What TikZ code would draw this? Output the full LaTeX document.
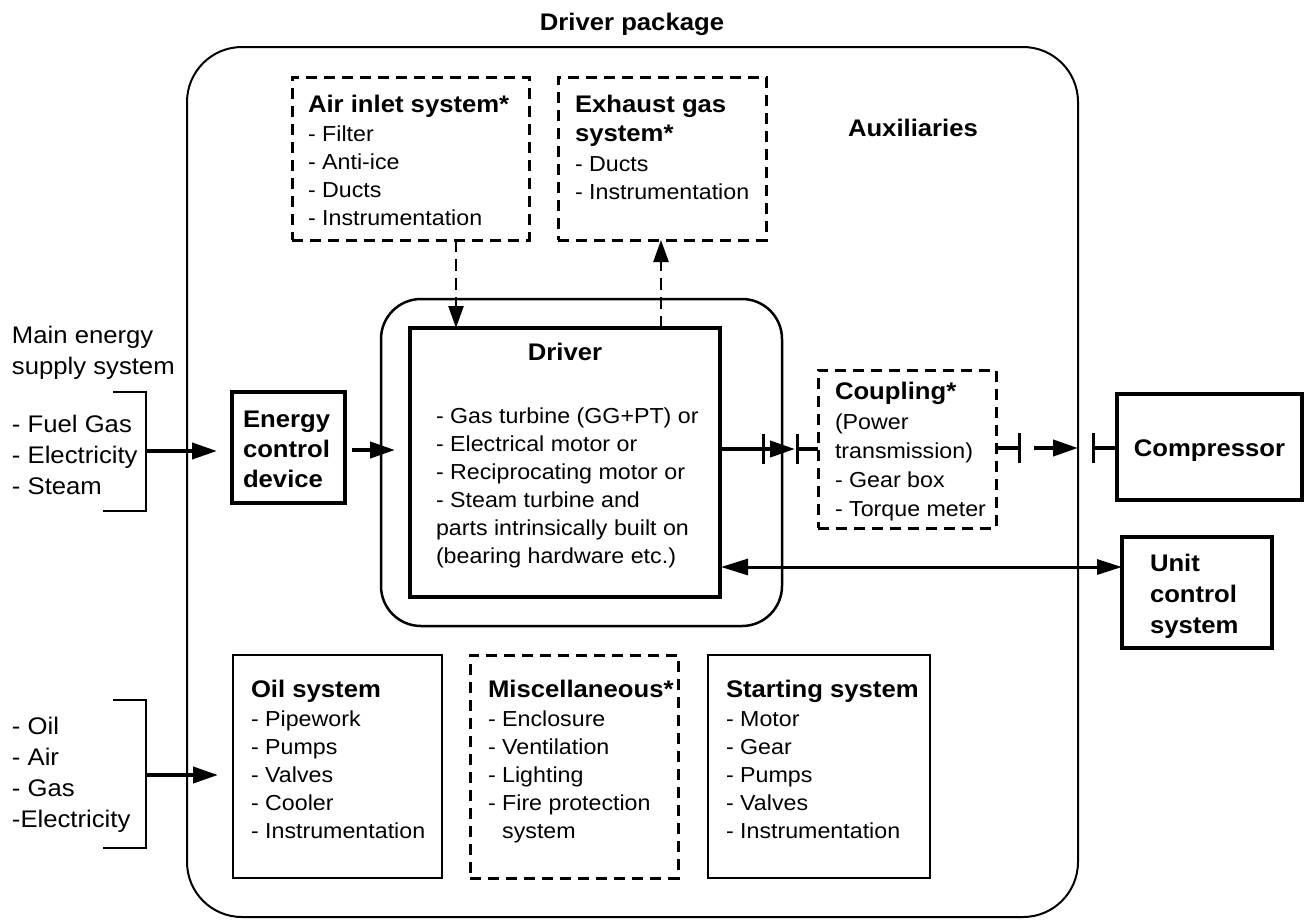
\documentclass[tikz,border=0pt]{standalone}
\usepackage{fontspec}
\setmainfont{Liberation Sans}[FakeStretch=1.07]
\usetikzlibrary{arrows.meta}
% text sizes
\newcommand\dgitem{\fontsize{21.7}{28}\selectfont}
\newcommand\dghead{\fontsize{24}{30}\selectfont\bfseries}
\newcommand\dgside{\fontsize{24}{31}\selectfont}
\begin{document}
% multi-line text nodes are placed by the baseline of their last line
\begin{tikzpicture}[x=1pt,y=-1pt,
  blk/.style={draw, line width=#1, inner sep=0pt, outer sep=0pt, anchor=north west},
  blk/.default=2pt,
  dblk/.style={blk=3pt, dash pattern=on 11pt off 7pt},
  txt/.style={inner sep=0pt, outer sep=0pt, anchor=base west, align=left, font=\dgitem},
  head/.style={txt, font=\dghead},
  side/.style={txt, font=\dgside},
  arr/.style={line width=4pt, -{Triangle[length=25pt,width=16pt]}},
  darr/.style={line width=2.5pt, dash pattern=on 12pt off 7pt, -{Triangle[length=22pt,width=15pt]}},
  twoway/.style={line width=3pt, {Triangle[length=27pt,width=16pt]}-{Triangle[length=25pt,width=15pt]}},
  bar/.style={line width=3pt},
  shaftline/.style={line width=3.5pt},
  bracket/.style={line width=2.2pt}
]
\useasboundingbox (0,0) rectangle (1311,919);

% driver package enclosure
\node[blk=2pt, rounded corners=55pt, minimum width=891pt, minimum height=870pt] (pkg) at (187,47) {};
\node[head, anchor=base] (ttl) at (632,30) {Driver package};
\node[head] (aux) at (848,136) {Auxiliaries};

% air inlet and exhaust
\node[dblk, minimum width=237pt, minimum height=163pt] (air) at (292,77) {};
\node[head] (airh) at (308,112) {Air inlet system*};
\node[txt] (airl) at (308,225) {- Filter\\- Anti-ice\\- Ducts\\- Instrumentation};

\node[dblk, minimum width=208pt, minimum height=163pt] (exh) at (558,77) {};
\node[head, font=\fontsize{24}{29}\selectfont\bfseries] (exhh) at (575,141) {Exhaust gas\\system*};
\node[txt] (exhl) at (575,199) {- Ducts\\- Instrumentation};

% driver
\node[blk=2.5pt, rounded corners=40pt, minimum width=401pt, minimum height=327pt] (drvpkg) at (381,299) {};
\node[blk=4pt, minimum width=310pt, minimum height=269pt] (drv) at (410,328) {};
\node[head, anchor=base] (drvh) at (565,360) {Driver};
\node[txt] (drvl) at (436,563) {- Gas turbine (GG+PT) or\\- Electrical motor or\\- Reciprocating motor or\\- Steam turbine and\\parts intrinsically built on\\(bearing hardware etc.)};

% energy supply
\node[side] (mes) at (12,374) {Main energy\\supply system};
\node[side] (mesl) at (12,494) {- Fuel Gas\\- Electricity\\- Steam};
\draw[bracket] (113,392) -- (146,392) -- (146,511) -- (103,511);
\coordinate (b1) at (146,451);

\node[blk=3.5pt, minimum width=113pt, minimum height=111pt] (ecd) at (232,392) {};
\node[head] (ecdt) at (243,487) {Energy\\control\\device};

% auxiliary supplies
\node[side] (auxl) at (12,827) {- Oil\\- Air\\- Gas\\-Electricity};
\draw[bracket] (113,700) -- (146,700) -- (146,848) -- (103,848);
\coordinate (b2) at (146,775);

% lower auxiliary systems
\node[blk=2pt, minimum width=209pt, minimum height=223pt] (oil) at (233,655) {};
\node[head] (oilh) at (251,697) {Oil system};
\node[txt] (oill) at (251,838) {- Pipework\\- Pumps\\- Valves\\- Cooler\\- Instrumentation};

\node[dblk, minimum width=208pt, minimum height=223pt] (misc) at (470,655) {};
\node[head] (misch) at (488,697) {Miscellaneous*};
\node[txt] (miscl) at (488,838) {- Enclosure\\- Ventilation\\- Lighting\\- Fire protection\\\phantom{-}\ system};

\node[blk=2pt, minimum width=222pt, minimum height=223pt] (start) at (708,655) {};
\node[head] (starth) at (726,697) {Starting system};
\node[txt] (startl) at (726,838) {- Motor\\- Gear\\- Pumps\\- Valves\\- Instrumentation};

% coupling, compressor, unit control
\node[dblk, minimum width=178pt, minimum height=158pt] (cpl) at (818,370) {};
\node[head] (cplh) at (835,399) {Coupling*};
\node[txt, font=\fontsize{21.7}{29}\selectfont] (cpll) at (835,516) {(Power\\transmission)\\- Gear box\\- Torque meter};

\node[blk=3.5pt, minimum width=185pt, minimum height=106pt] (cmp) at (1117,394) {};
\node[head, anchor=base] (cmpt) at (1209.5,456) {Compressor};

\node[blk=3.5pt, minimum width=150pt, minimum height=111pt] (ucs) at (1122,537) {};
\node[head, font=\fontsize{24}{31}\selectfont\bfseries] (ucst) at (1150,633) {Unit\\control\\system};

% supply arrows
\draw[arr, shorten >=15pt] (b1) -- (b1 -| ecd.west);
\draw[arr, shorten >=15pt] (b2) -- (b2 -| oil.west);
\coordinate (e1) at (0,450);
\draw[arr, shorten <=7pt, shorten >=15pt] (ecd.east |- e1) -- (e1 -| drv.west);

% air and exhaust gas paths
\coordinate (ax) at (456,0);
\coordinate (ex) at (661,0);
\draw[darr] (air.south -| ax) -- (drv.north -| ax);
\draw[darr] (drv.north -| ex) -- (exh.south -| ex);

% shaft line with coupling flanges
\coordinate (f1) at (763,449);
\coordinate (f2) at (797,449);
\coordinate (f3) at (1019,448);
\coordinate (a3) at (1034,448);
\coordinate (f4) at (1093,448);
\draw[shaftline] (drv.east |- f1) -- (f1);
\draw[bar] (f1) ++(0,-15) -- ++(0,30);
\draw[arr, shorten >=2pt] (f1) -- (f2);
\draw[bar] (f2) ++(0,-15) -- ++(0,30);
\draw[shaftline] (f2) -- (cpl.west |- f2);
\draw[shaftline] (cpl.east |- f3) -- (f3);
\draw[bar] (f3) ++(0,-15) -- ++(0,30);
\draw[arr] (a3) -- (pkg.east |- a3);
\draw[bar] (f4) ++(0,-15) -- ++(0,30);
\draw[shaftline] (f4) -- (cmp.west |- f4);

% control signal
\coordinate (u1) at (0,567);
\draw[twoway, shorten <=1pt] (drv.east |- u1) -- (ucs.west |- u1);
\end{tikzpicture}
\end{document}
